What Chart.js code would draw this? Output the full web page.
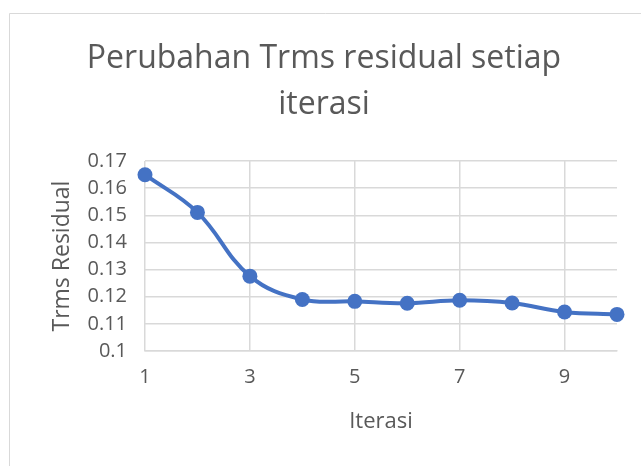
<!DOCTYPE html>
<html>
<head>
<meta charset="utf-8">
<script src="https://cdn.jsdelivr.net/npm/chart.js@4/dist/chart.umd.min.js"></script>
<style>
  html, body { margin: 0; padding: 0; background: #ffffff; }
  #wrap { position: relative; width: 641px; height: 466px; }
</style>
</head>
<body>
<div id="wrap"><canvas id="c" width="641" height="466"></canvas></div>
<script>
const chartTitle = ['Perubahan Trms residual setiap', 'iterasi'];
const xAxisTitle = 'Iterasi';
const yAxisTitle = 'Trms Residual';
const iterations = [1, 2, 3, 4, 5, 6, 7, 8, 9, 10];
const trmsResidual = [0.165, 0.1511, 0.1276, 0.119, 0.1183, 0.1176, 0.1187, 0.1177, 0.1144, 0.1135];
const xTickValues = [1, 3, 5, 7, 9];
const yTickValues = [0.1, 0.11, 0.12, 0.13, 0.14, 0.15, 0.16, 0.17];

const FONT = "'Open Sans', 'Noto Sans', sans-serif";
const TEXT = '#595959';
const GRID = '#D9D9D9';

const framePlugin = {
  id: 'frame',
  beforeDraw(chart) {
    const ctx = chart.ctx;
    ctx.save();
    ctx.fillStyle = '#ffffff';
    ctx.fillRect(0, 0, chart.width, chart.height);
    ctx.strokeStyle = '#D9D9D9';
    ctx.lineWidth = 1;
    ctx.beginPath();
    ctx.moveTo(9.5, chart.height);
    ctx.lineTo(9.5, 13.5);
    ctx.lineTo(chart.width, 13.5);
    ctx.stroke();
    ctx.restore();
  }
};

new Chart(document.getElementById('c'), {
  type: 'line',
  data: {
    datasets: [{
      data: iterations.map((x, i) => ({ x: x, y: trmsResidual[i] })),
      borderColor: '#4472C4',
      backgroundColor: '#4472C4',
      borderWidth: 4,
      pointRadius: 7.5,
      pointBorderWidth: 0,
      pointBackgroundColor: '#4472C4',
      tension: 0.4,
      clip: false
    }]
  },
  options: {
    responsive: false,
    animation: false,
    layout: { padding: { left: 31, right: 24, top: 0, bottom: 0 } },
    plugins: {
      legend: { display: false },
      tooltip: { enabled: false },
      title: {
        display: true,
        text: chartTitle,
        color: TEXT,
        font: { family: FONT, size: 32, weight: 'normal', lineHeight: 1.43 },
        padding: { top: 36.2, bottom: 33.4 }
      }
    },
    scales: {
      x: {
        type: 'linear',
        min: 1,
        max: 10,
        afterBuildTicks(scale) { scale.ticks = xTickValues.map(v => ({ value: v })); },
        afterFit(scale) { scale.height = 115; },
        grid: { color: GRID, lineWidth: 1.5, drawTicks: false },
        border: { display: true, color: GRID, width: 1.5 },
        ticks: { color: TEXT, font: { family: FONT, size: 20 }, padding: 14, maxRotation: 0 },
        title: {
          display: true, text: xAxisTitle, color: TEXT,
          font: { family: FONT, size: 22, lineHeight: 1.2 },
          padding: { top: 0, bottom: 30.8 }
        }
      },
      y: {
        min: 0.1,
        max: 0.17,
        afterBuildTicks(scale) { scale.ticks = yTickValues.map(v => ({ value: v })); },
        afterFit(scale) { scale.width = 114; },
        grid: { color: GRID, lineWidth: 1.5, drawTicks: false },
        border: { display: false },
        ticks: {
          color: TEXT, font: { family: FONT, size: 20 }, padding: 18,
          callback: v => String(Number(v.toFixed(2)))
        },
        title: {
          display: true, text: yAxisTitle, color: TEXT,
          font: { family: FONT, size: 23, lineHeight: 1.2 },
          padding: { top: 17.7, bottom: 0 }
        }
      }
    }
  },
  plugins: [framePlugin]
});
</script>
</body>
</html>
